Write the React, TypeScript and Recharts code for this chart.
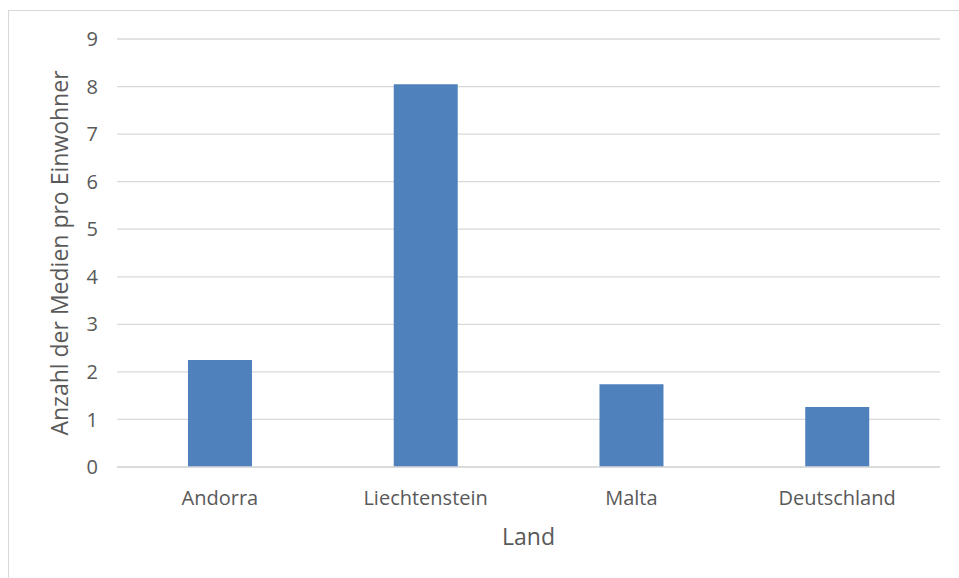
import { BarChart, Bar, XAxis, YAxis, CartesianGrid, Label } from "recharts"

const countries = ["Andorra", "Liechtenstein", "Malta", "Deutschland"]
const mediaPerCapita = [2.25, 8.05, 1.74, 1.26]
const yTicks = [0, 1, 2, 3, 4, 5, 6, 7, 8, 9]

const chartData = countries.map((land, i) => ({ land, value: mediaPerCapita[i] }))

const font = "'Open Sans', sans-serif"
const textColor = "#595959"

export default function App() {
  return (
    <div style={{ position: "absolute", left: 0, top: 0, width: 959, height: 578, overflow: "hidden", background: "#fff" }}>
      <div
        style={{
          position: "absolute",
          left: 8,
          top: 10,
          width: 980,
          height: 600,
          border: "1px solid #d9d9d9",
        }}
      />
      <BarChart
        width={959}
        height={578}
        data={chartData}
        margin={{ top: 39, right: 19, left: 50, bottom: 41 }}
        barCategoryGap="34.5%"
        style={{ position: "absolute", left: 0, top: 0, fontFamily: font }}
      >
        <CartesianGrid vertical={false} stroke="#d9d9d9" strokeWidth={1.3} />
        <XAxis
          dataKey="land"
          height={70}
          axisLine={{ stroke: "#d9d9d9", strokeWidth: 1.3 }}
          tickLine={false}
          tickSize={0}
          tickMargin={24}
          tick={{ fill: textColor, fontSize: 20, fontFamily: font }}
        >
          <Label
            value="Land"
            position="insideBottom"
            offset={-8}
            style={{ fill: textColor, fontSize: 23, fontFamily: font }}
          />
        </XAxis>
        <YAxis
          width={67}
          domain={[0, 9]}
          ticks={yTicks}
          axisLine={false}
          tickLine={false}
          tickSize={0}
          tickMargin={19}
          tick={{ fill: textColor, fontSize: 20, fontFamily: font }}
        >
          <Label
            value="Anzahl der Medien pro Einwohner"
            angle={-90}
            position="insideLeft"
            offset={10}
            style={{ fill: textColor, fontSize: 23, fontFamily: font, textAnchor: "middle" }}
          />
        </YAxis>
        <Bar dataKey="value" fill="#4f81bd" isAnimationActive={false} />
      </BarChart>
    </div>
  )
}
